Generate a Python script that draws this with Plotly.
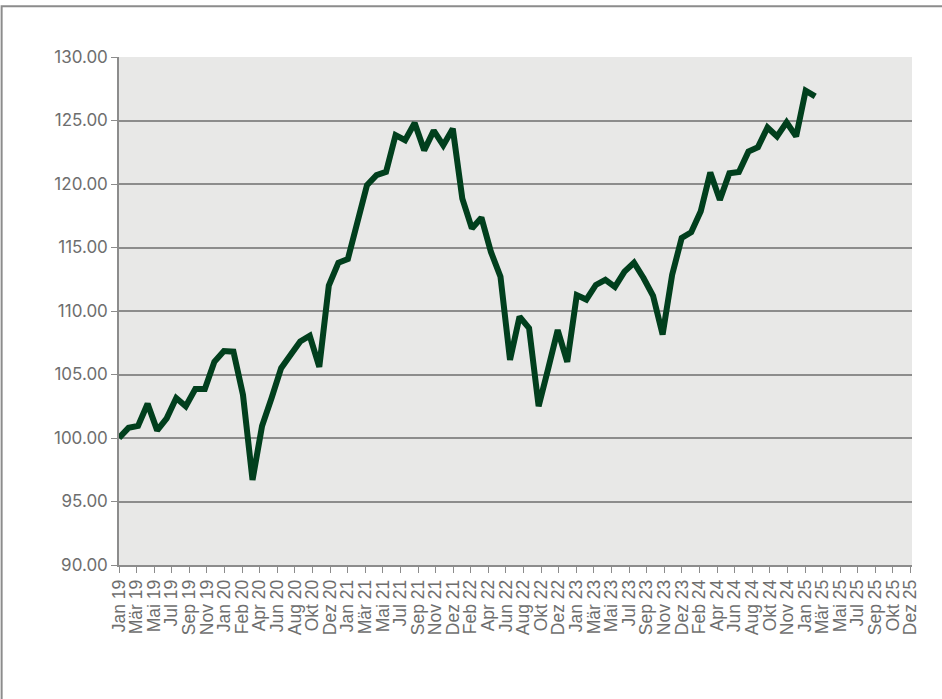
import plotly.graph_objects as go

# --- Data ---
MONTHS = [
    "Jan 19", "Feb 19", "Mär 19", "Apr 19", "Mai 19", "Jun 19", "Jul 19", "Aug 19", "Sep 19", "Okt 19", "Nov 19", "Dez 19",
    "Jan 20", "Feb 20", "Mär 20", "Apr 20", "Mai 20", "Jun 20", "Jul 20", "Aug 20", "Sep 20", "Okt 20", "Nov 20", "Dez 20",
    "Jan 21", "Feb 21", "Mär 21", "Apr 21", "Mai 21", "Jun 21", "Jul 21", "Aug 21", "Sep 21", "Okt 21", "Nov 21", "Dez 21",
    "Jan 22", "Feb 22", "Mär 22", "Apr 22", "Mai 22", "Jun 22", "Jul 22", "Aug 22", "Sep 22", "Okt 22", "Nov 22", "Dez 22",
    "Jan 23", "Feb 23", "Mär 23", "Apr 23", "Mai 23", "Jun 23", "Jul 23", "Aug 23", "Sep 23", "Okt 23", "Nov 23", "Dez 23",
    "Jan 24", "Feb 24", "Mär 24", "Apr 24", "Mai 24", "Jun 24", "Jul 24", "Aug 24", "Sep 24", "Okt 24", "Nov 24", "Dez 24",
    "Jan 25", "Feb 25",
]

VALUES = [
    100.0, 100.8, 100.95, 102.7, 100.6, 101.55, 103.15, 102.5, 103.85, 103.85, 106.0, 106.85,
    106.8, 103.4, 96.7, 100.95, 103.15, 105.5, 106.55, 107.6, 108.05, 105.6, 112.0, 113.8,
    114.1, 116.9, 119.9, 120.7, 120.95, 123.85, 123.45, 124.8, 122.65, 124.2, 123.05, 124.35,
    118.85, 116.5, 117.35, 114.65, 112.7, 106.15, 109.55, 108.65, 102.5, 105.45, 108.5, 106.0,
    111.25, 110.9, 112.05, 112.45, 111.9, 113.1, 113.8, 112.6, 111.2, 108.15, 112.85, 115.75,
    116.2, 117.85, 120.9, 118.75, 120.85, 120.95, 122.55, 122.9, 124.45, 123.75, 124.85, 123.75,
    127.35, 126.9,
]

# axis runs Jan 19 .. Dez 25 (83 months), labels as printed under the axis
TICK_LABELS = [
    "Jan 19", "Mär 19", "Mai 19", "Jul 19", "Sep 19", "Nov 19", "Jan 20", "Feb 20", "Apr 20", "Jun 20",
    "Aug 20", "Okt 20", "Dez 20", "Jan 21", "Mär 21", "Mai 21", "Jul 21", "Sep 21", "Nov 21", "Dez 21",
    "Feb 22", "Apr 22", "Jun 22", "Aug 22", "Okt 22", "Dez 22", "Jan 23", "Mär 23", "Mai 23", "Jul 23",
    "Sep 23", "Nov 23", "Dez 23", "Feb 24", "Apr 24", "Jun 24", "Aug 24", "Okt 24", "Nov 24", "Jan 25",
    "Mär 25", "Mai 25", "Jul 25", "Sep 25", "Okt 25", "Dez 25",
]
AXIS_MONTHS = 83

Y_TICKS = [90, 95, 100, 105, 110, 115, 120, 125, 130]

GREY = "#8c8c8c"
TEXT = "#6e6e6e"

x = list(range(len(VALUES)))
step = AXIS_MONTHS / (len(TICK_LABELS) - 1)
tickvals = [i * step for i in range(len(TICK_LABELS))]

fig = go.Figure()
fig.add_trace(go.Scatter(
    x=x, y=VALUES, mode="lines",
    line=dict(color="#013f1d", width=6),
    hovertext=MONTHS, showlegend=False,
))

fig.update_layout(
    width=942, height=699,
    margin=dict(l=119, r=30, t=57, b=134),
    paper_bgcolor="white",
    plot_bgcolor="#e8e8e7",
    font=dict(family="Liberation Sans, Arial, sans-serif", color=TEXT),
)

fig.update_xaxes(
    range=[0, AXIS_MONTHS + 0.15],
    tickmode="array", tickvals=tickvals, ticktext=TICK_LABELS,
    tickangle=-90, tickfont=dict(size=17.5, color=TEXT),
    ticks="outside", ticklen=6, tickcolor=GREY, tickwidth=1.2,
    showgrid=False, zeroline=False,
    showline=True, linecolor=GREY, linewidth=1.5,
)
fig.update_yaxes(
    range=[90, 130],
    tickmode="array", tickvals=Y_TICKS, ticktext=[f"{v:.2f}" for v in Y_TICKS],
    tickfont=dict(family="Inter, Liberation Sans, sans-serif", size=17, color=TEXT),
    ticks="outside", ticklen=6, tickcolor=GREY, tickwidth=1.2,
    showgrid=True, gridcolor=GREY, gridwidth=1.5,
    zeroline=False, showline=True, linecolor=GREY, linewidth=1.5,
)

# thin grey frame around the chart (top and left edges visible in the picture)
fig.add_shape(
    type="rect", xref="paper", yref="paper",
    x0=-0.148, x1=1.06, y0=-0.3, y1=1.10,
    line=dict(color=GREY, width=2), layer="below",
)

# page has a default 8px body margin; drop it so the chart sits at the window edge
fig.write_html(
    "out.html",
    config={"displayModeBar": False},
    post_script="document.body.style.margin='0';",
)
